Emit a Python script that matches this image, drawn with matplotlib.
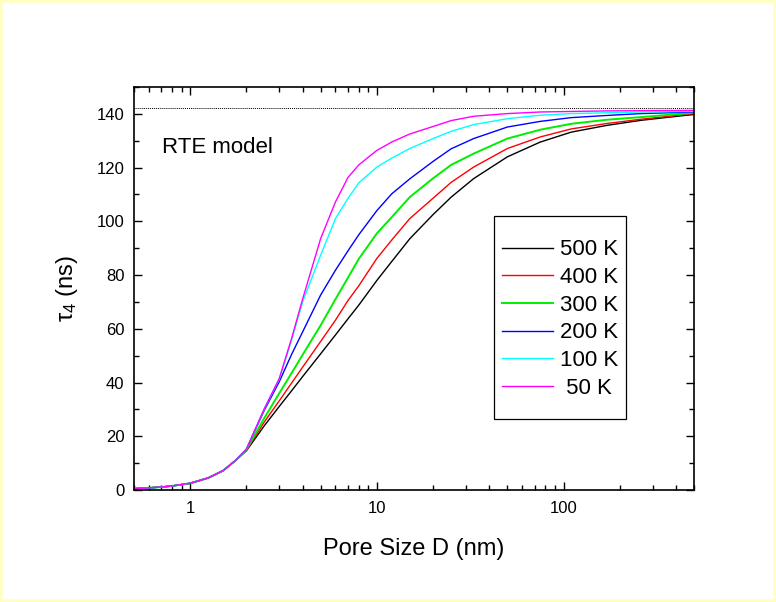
import matplotlib
matplotlib.use("Agg")
import matplotlib.pyplot as plt
from matplotlib.ticker import FixedLocator, FixedFormatter, MultipleLocator, NullFormatter
from matplotlib.patches import Rectangle

plt.rcParams['font.family'] = ['Liberation Sans', 'DejaVu Sans']
plt.rcParams['mathtext.fontset'] = 'custom'
plt.rcParams['mathtext.rm'] = 'Liberation Sans'
plt.rcParams['mathtext.default'] = 'regular'

# Pore size D (nm) and lifetime tau_4 (ns) for each temperature
pore_size = [0.5, 0.6, 0.7, 0.8, 1.0, 1.25, 1.5, 1.75, 2.0, 2.5, 3.0, 3.5, 4.0,
             5.0, 6.0, 7.0, 8.0, 10, 12, 15, 20, 25, 33, 50, 75, 110, 170, 260, 500]
shared = [0.5, 0.8, 1.1, 1.5, 2.5, 4.5, 7.2, 11.0]

tau_500K = shared + [14.6, 24.0, 31.1, 37.0, 42.2, 50.7, 57.7, 63.7, 68.8, 78.0,
                     85.0, 93.5, 102.5, 109.0, 115.9, 124.0, 129.5, 133.2, 135.7,
                     137.6, 139.8]
tau_400K = shared + [14.8, 25.4, 33.2, 39.9, 45.7, 55.3, 63.2, 70.5, 76.0, 86.2,
                     93.0, 101.0, 108.6, 114.5, 120.2, 127.1, 131.4, 134.4, 136.4,
                     138.0, 140.1]
tau_300K = shared + [15.0, 26.9, 36.0, 43.6, 50.3, 61.3, 71.0, 79.0, 86.0, 95.5,
                     101.5, 109.0, 116.0, 121.0, 125.2, 130.8, 134.1, 136.3, 137.8,
                     138.8, 140.4]
tau_200K = shared + [15.2, 29.8, 40.3, 50.6, 58.8, 72.6, 81.8, 89.0, 95.0, 104.0,
                     110.2, 115.8, 122.3, 127.0, 130.8, 135.1, 137.2, 138.6, 139.4,
                     140.1, 140.7]
tau_100K = shared + [15.2, 30.3, 41.3, 56.0, 70.0, 87.4, 101.0, 108.5, 114.3, 120.2,
                     123.5, 127.1, 130.8, 133.5, 136.0, 138.2, 139.5, 140.1, 140.4,
                     140.7, 140.9]
tau_50K = shared + [15.2, 30.4, 41.5, 56.6, 71.0, 93.6, 107.2, 116.3, 121.0, 126.4,
                    129.5, 132.5, 135.3, 137.5, 139.1, 140.1, 140.7, 140.9, 141.1,
                    141.2, 141.3]

series = [
    ("500 K", tau_500K, "#000000"),
    ("400 K", tau_400K, "#ff0000"),
    ("300 K", tau_300K, "#00ee00"),
    ("200 K", tau_200K, "#0000ff"),
    ("100 K", tau_100K, "#00ffff"),
    (" 50 K", tau_50K, "#ff00ff"),
]
tau_limit = 142.0

fig = plt.figure(figsize=(7.76, 6.02), dpi=100)
fig.patch.set_facecolor('white')
fig.patches.append(Rectangle((0, 0), 1, 1, transform=fig.transFigure,
                             fill=False, edgecolor='#ffffc0', linewidth=4))

ax = fig.add_axes([134 / 776, 1 - 490 / 602, 560 / 776, 403 / 602])
ax.set_xscale('log')

ax.axhline(tau_limit, color='black', linestyle=(0, (1, 1)), linewidth=0.7, zorder=1)
for label, tau, color in series:
    lw = 1.4 if label == "300 K" else 1.0
    ax.plot(pore_size, tau, color=color, linewidth=lw, label=label, zorder=2)

ax.set_xlim(0.5, 500)
ax.set_ylim(0, 150)

ax.xaxis.set_major_locator(FixedLocator([1, 10, 100]))
ax.xaxis.set_major_formatter(FixedFormatter(['1', '10', '100']))
minor_x = [m * 10.0 ** e for e in (-1, 0, 1, 2) for m in range(2, 10)]
ax.xaxis.set_minor_locator(FixedLocator(minor_x))
ax.xaxis.set_minor_formatter(NullFormatter())
ax.yaxis.set_major_locator(FixedLocator([0, 20, 40, 60, 80, 100, 120, 140]))
ax.yaxis.set_minor_locator(MultipleLocator(10))

ax.tick_params(which='both', direction='in', top=True, right=True, width=1.0,
               labelsize=12)
ax.tick_params(which='major', length=6)
ax.tick_params(which='minor', length=3.5)
ax.tick_params(axis='x', which='major', pad=8)
ax.tick_params(axis='y', which='major', pad=7)
for sp in ax.spines.values():
    sp.set_linewidth(1.2)

ax.set_xlabel('Pore Size D (nm)', fontsize=17, labelpad=16)
ax.set_ylabel('τ$_4$ (ns)', fontsize=17, labelpad=12)

ax.text(0.05, 0.8355, 'RTE model', transform=ax.transAxes, fontsize=16,
        va='baseline', ha='left')

# legend frame and entries
ax.add_patch(Rectangle((0.643, 0.176), 0.236, 0.504, transform=ax.transAxes,
                       fill=False, edgecolor='black', linewidth=0.9, zorder=5))
ax.legend(loc='upper left', bbox_to_anchor=(0.657, 0.622), frameon=False,
          fontsize=16, handlelength=2.3, handletextpad=0.3, labelspacing=0.3,
          borderpad=0, borderaxespad=0)

fig.savefig('out.png', dpi=100)
